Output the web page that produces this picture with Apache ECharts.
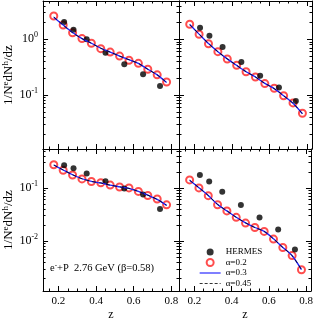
<!DOCTYPE html>
<html><head><meta charset="utf-8">
<script src="https://cdn.jsdelivr.net/npm/echarts@6/dist/echarts.min.js"></script>
<style>html,body{margin:0;padding:0;background:#fff}#c{width:316px;height:322px}</style>
</head><body><div id="c"></div>
<script>
// ---- data ----
const zModel = [0.175,0.225,0.275,0.325,0.375,0.425,0.475,0.525,0.575,0.625,0.675,0.725,0.775];
const zHermes = [0.23,0.28,0.35,0.45,0.55,0.65,0.74];

const tlHermes = [2.05,1.49,1.0,0.575,0.356,0.235,0.145];
const tlA02  = [2.62,1.81,1.31,1.03,0.85,0.68,0.59,0.50,0.42,0.37,0.29,0.23,0.171];
const tlA03  = [2.50,1.80,1.32,1.03,0.85,0.69,0.59,0.50,0.43,0.37,0.29,0.23,0.168];
const tlA045 = [2.52,1.80,1.31,1.03,0.85,0.69,0.59,0.50,0.43,0.37,0.29,0.23,0.168];

const trHermes = [1.62,1.16,0.73,0.39,0.222,0.137,0.078];
const trA02  = [1.86,1.23,0.834,0.60,0.443,0.341,0.262,0.21,0.16,0.132,0.097,0.072,0.047];
const trA03  = [1.84,1.24,0.84,0.60,0.445,0.340,0.262,0.21,0.162,0.130,0.097,0.071,0.046];
const trA045 = [1.84,1.24,0.84,0.60,0.445,0.340,0.262,0.21,0.162,0.130,0.097,0.071,0.046];

const blHermes = [0.268,0.234,0.187,0.134,0.098,0.0755,0.040];
const blA02  = [0.273,0.215,0.175,0.148,0.132,0.125,0.113,0.104,0.100,0.086,0.072,0.062,0.048];
const blA03  = [0.270,0.218,0.177,0.149,0.133,0.124,0.113,0.105,0.098,0.086,0.073,0.061,0.047];
const blA045 = [0.270,0.218,0.177,0.149,0.133,0.124,0.113,0.105,0.098,0.086,0.073,0.061,0.047];

const brHermes = [0.175,0.132,0.0846,0.0477,0.0277,0.0165,0.00695];
const brA02  = [0.1415,0.100,0.0716,0.0483,0.037,0.028,0.0218,0.018,0.0152,0.0109,0.00755,0.00533,0.00288];
const brA03  = [0.140,0.101,0.072,0.049,0.037,0.028,0.022,0.018,0.0152,0.0110,0.0076,0.0053,0.0029];
const brA045 = [0.140,0.101,0.072,0.049,0.037,0.028,0.022,0.018,0.0152,0.0110,0.0076,0.0053,0.0029];

const xTickValues = [0.2,0.4,0.6,0.8];
const xTickLabels = ['0.2','0.4','0.6','0.8'];
const xMinorValues = [0.15,0.25,0.3,0.35,0.45,0.5,0.55,0.65,0.7,0.75];
const yDecadeExponents = [-3,-2,-1,0];
const legendNames = ['HERMES','α=0.2','α=0.3','α=0.45'];
const yTitle = '{a|1/N}{s|e}{a|dN}{s|h}{a|/dz}';
const xTitle = 'z';
const noteText = '{a|e}{s|-}{a|+P  2.76 GeV (β=0.58)}';

// ---- layout ----
const FONT = 'Liberation Serif';
const panels = [
  {grid:{left:43,top:1,width:136,height:148}, xr:[0.118,0.841], yr:[-1.97,0.688], col:0,row:0, d:[tlHermes,tlA02,tlA03,tlA045]},
  {grid:{left:179,top:1,width:133,height:148}, xr:[0.118,0.826], yr:[-1.97,0.688], col:1,row:0, d:[trHermes,trA02,trA03,trA045]},
  {grid:{left:43,top:149,width:136,height:147}, xr:[0.118,0.841], yr:[-2.94,-0.267], col:0,row:1, d:[blHermes,blA02,blA03,blA045]},
  {grid:{left:179,top:149,width:133,height:147}, xr:[0.118,0.826], yr:[-2.94,-0.267], col:1,row:1, d:[brHermes,brA02,brA03,brA045]}
];

const yMajor = yDecadeExponents.slice();
const yMinor = [];
yDecadeExponents.forEach(n => { for (let k=2;k<=9;k++) yMinor.push(n + Math.log10(k)); });

const lineStyle = {color:'#000', width:1};
const grids = [], xAxes = [], yAxes = [], series = [];

panels.forEach((p, gi) => {
  grids.push(Object.assign({containLabel:false}, p.grid));
  const inX = v => v.filter(t => t >= p.xr[0] && t <= p.xr[1]);
  const inY = v => v.filter(t => t >= p.yr[0] && t <= p.yr[1]);
  const baseX = {gridIndex:gi, type:'value', min:p.xr[0], max:p.xr[1], splitLine:{show:false}};
  const baseY = {gridIndex:gi, type:'value', min:p.yr[0], max:p.yr[1], splitLine:{show:false}};
  const xMainIndex = xAxes.length;
  ['bottom','top'].forEach(pos => {
    const isMain = pos === 'bottom';
    const showLab = isMain && p.row === 1;
    xAxes.push(Object.assign({}, baseX, {
      position: pos,
      axisLine:{show:true, onZero:false, lineStyle},
      axisTick:{show:true, inside:true, length:5, customValues: inX(xTickValues), lineStyle},
      axisLabel:{show:showLab, customValues: inX(xTickValues), margin:5,
        formatter: v => { const i = xTickValues.findIndex(t => Math.abs(t - v) < 1e-6); return i >= 0 ? xTickLabels[i] : ''; },
        fontFamily:FONT, fontSize:11, color:'#000'},
      name: showLab ? xTitle : '', nameLocation:'middle', nameGap:18,
      nameTextStyle:{fontFamily:FONT, fontSize:12, color:'#000'}
    }));
    xAxes.push(Object.assign({}, baseX, {
      position: pos,
      axisLine:{show:false, onZero:false},
      axisTick:{show:true, inside:true, length:2.5, customValues: inX(xMinorValues), lineStyle},
      axisLabel:{show:false}
    }));
  });
  const yMainIndex = yAxes.length;
  ['left','right'].forEach(pos => {
    const isMain = pos === 'left';
    const showLab = isMain && p.col === 0;
    yAxes.push(Object.assign({}, baseY, {
      position: pos,
      axisLine:{show:true, onZero:false, lineStyle},
      axisTick:{show:true, inside:true, length:5, customValues: inY(yMajor), lineStyle},
      axisLabel:{show:showLab, customValues: inY(yMajor), margin:5,
        formatter: v => '{b|10}{s|' + Math.round(v) + '}',
        rich:{b:{fontFamily:FONT, fontSize:12, color:'#000', lineHeight:16},
              s:{fontFamily:FONT, fontSize:8, color:'#000', lineHeight:9, verticalAlign:'top'}}},
      name: showLab ? yTitle : '', nameLocation:'middle', nameRotate:90, nameGap:24,
      nameTextStyle:{rich:{a:{fontFamily:FONT, fontSize:13, color:'#000', lineHeight:16},
                           s:{fontFamily:FONT, fontSize:9, color:'#000', lineHeight:10, verticalAlign:'top'}}}
    }));
    yAxes.push(Object.assign({}, baseY, {
      position: pos,
      axisLine:{show:false, onZero:false},
      axisTick:{show:true, inside:true, length:2.5, customValues: inY(yMinor), lineStyle},
      axisLabel:{show:false}
    }));
  });
  const L = Math.log10;
  series.push({name:legendNames[0], type:'scatter', xAxisIndex:xMainIndex, yAxisIndex:yMainIndex,
    symbol:'circle', symbolSize:6, itemStyle:{color:'#000'},
    data: zHermes.map((z,i) => [z, L(p.d[0][i])]), z:3});
  series.push({name:legendNames[1], type:'scatter', xAxisIndex:xMainIndex, yAxisIndex:yMainIndex,
    symbol:'emptyCircle', symbolSize:7, itemStyle:{color:'#ff2020', borderWidth:1},
    data: zModel.map((z,i) => [z, L(p.d[1][i])]), z:2});
  series.push({name:legendNames[2], type:'line', xAxisIndex:xMainIndex, yAxisIndex:yMainIndex,
    symbol:'none', smooth:0.3, lineStyle:{color:'#1f1fff', width:1.3}, itemStyle:{color:'#1f1fff'},
    data: zModel.map((z,i) => [z, L(p.d[2][i])]), z:4});
  series.push({name:legendNames[3], type:'line', xAxisIndex:xMainIndex, yAxisIndex:yMainIndex,
    symbol:'none', smooth:0.3, lineStyle:{color:'#000', width:0.8, type:[4,3]}, itemStyle:{color:'#000'},
    data: zModel.map((z,i) => [z, L(p.d[3][i])]), z:5});
});

const hidden = {color:'rgba(0,0,0,0)', borderWidth:0, borderColor:'rgba(0,0,0,0)'};
const chart = echarts.init(document.getElementById('c'), null, {renderer:'canvas'});
chart.setOption({
  animation:false,
  backgroundColor:'#fff',
  grid: grids, xAxis: xAxes, yAxis: yAxes, series,
  legend:{data:[
      {name:legendNames[0]},
      {name:legendNames[1]},
      {name:legendNames[2], itemStyle:hidden, lineStyle:{color:'#3a3aff', width:1.3}},
      {name:legendNames[3], itemStyle:hidden, lineStyle:{color:'#000', width:0.8, type:[3,2]}}
    ], orient:'vertical', left:199, top:247, itemWidth:21, itemHeight:7, itemGap:0.5,
    padding:0, textStyle:{fontFamily:FONT, fontSize:9, color:'#000', lineHeight:10}, selectedMode:false},
  title:{text:noteText, left:50, top:262, padding:0,
    textStyle:{fontWeight:'normal', rich:{a:{fontFamily:FONT, fontSize:10.5, fontWeight:'normal', color:'#000', lineHeight:12},
                     s:{fontFamily:FONT, fontSize:7, fontWeight:'normal', color:'#000', lineHeight:7, verticalAlign:'top'}}}}
});
</script></body></html>
